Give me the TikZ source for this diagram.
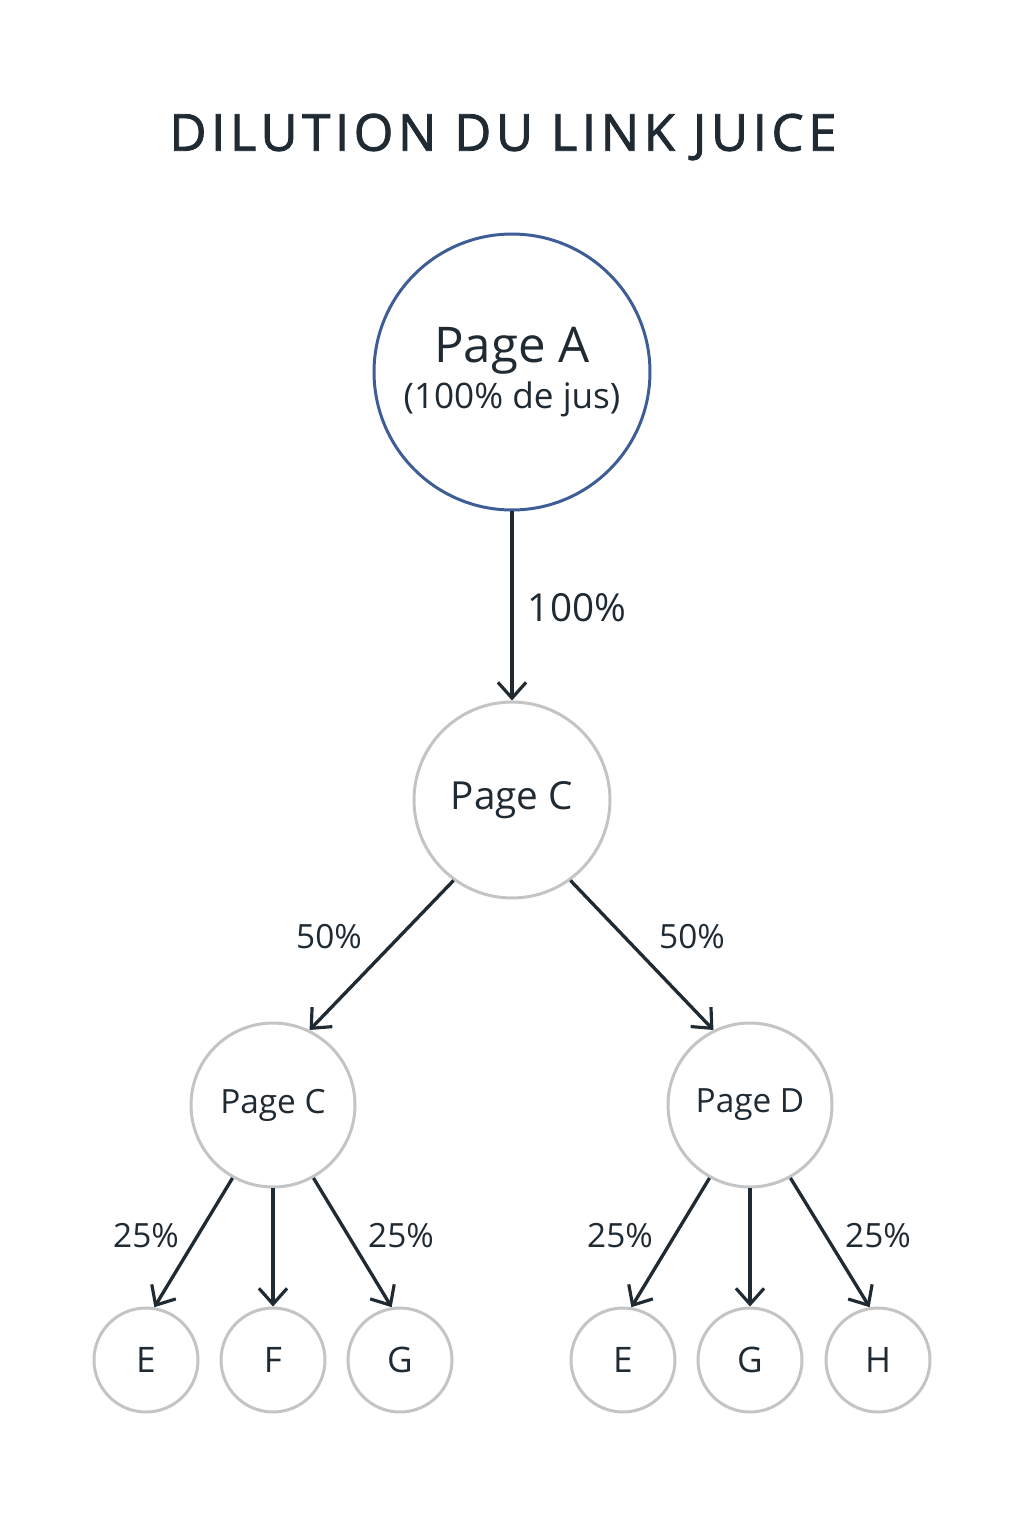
\documentclass[tikz,border=0pt]{standalone}
\usepackage{fontspec}
\setmainfont{Open Sans}
\newfontfamily\titlefont[LetterSpace=9,FakeBold=1.6]{Open Sans}
\usetikzlibrary{arrows.meta}
\definecolor{inkdark}{RGB}{31,42,51}
\definecolor{rimblue}{RGB}{62,92,150}
\definecolor{rimgray}{RGB}{196,196,196}

\tikzset{
  page/.style={circle, draw=rimgray, line width=1.7pt, fill=white, text=inkdark, inner sep=0pt},
  flow/.style={-{Straight Barb[length=9pt,width=16pt,line width=1.8pt]}, draw=inkdark, line width=1.9pt},
  share/.style={text=inkdark, font=\fontsize{19}{22}\selectfont}
}

\begin{document}
\begin{tikzpicture}[x=0.02cm, y=-0.02cm]
\useasboundingbox[fill=white] (0,0) rectangle (1024,1536);

\node[text=inkdark, font=\titlefont\fontsize{29}{34}\selectfont] (title) at (503,137) {DILUTION DU LINK JUICE};

% niveaux
\node[page, draw=rimblue, minimum size=5.52cm, align=center] (pageA) at (512,372)
  {{\fontsize{28}{32}\selectfont Page A}\\[3pt]{\fontsize{20}{24}\selectfont (100\% de jus)}};
\node[page, minimum size=3.92cm, font=\fontsize{22}{26}\selectfont] (pageC) at (512,800) {Page C};
\node[page, minimum size=3.28cm, font=\fontsize{19}{22}\selectfont] (pageCl) at (273,1105) {Page C};
\node[page, minimum size=3.28cm, font=\fontsize{19}{22}\selectfont] (pageD) at (750,1105) {Page D};

\foreach \name/\txt/\xx in {e1/E/146, f1/F/273, g1/G/400, e2/E/623, g2/G/750, h2/H/878}
  \node[page, minimum size=2.08cm, font=\fontsize{20}{24}\selectfont] (\name) at (\xx,1360) {\txt};

% fleches
\draw[flow] (pageA) -- (pageC);
\draw[flow] (pageC.234) -- (pageCl.64);
\draw[flow] (pageC.-54) -- (pageD.116);
\draw[flow] (pageCl.241) -- (e1.81);
\draw[flow] (pageCl) -- (f1);
\draw[flow] (pageCl.-61) -- (g1.99);
\draw[flow] (pageD.241) -- (e2.81);
\draw[flow] (pageD) -- (g2);
\draw[flow] (pageD.-61) -- (h2.99);

% pourcentages
\node[share, font=\fontsize{22}{26}\selectfont] (pA) at (577,608) {100\%};
\node[share] (pCl) at (329,937) {50\%};
\node[share] (pD) at (692,937) {50\%};
\node[share] (pe1) at (146,1236) {25\%};
\node[share] (pg1) at (401,1236) {25\%};
\node[share] (pe2) at (620,1236) {25\%};
\node[share] (ph2) at (878,1236) {25\%};
\end{tikzpicture}
\end{document}
